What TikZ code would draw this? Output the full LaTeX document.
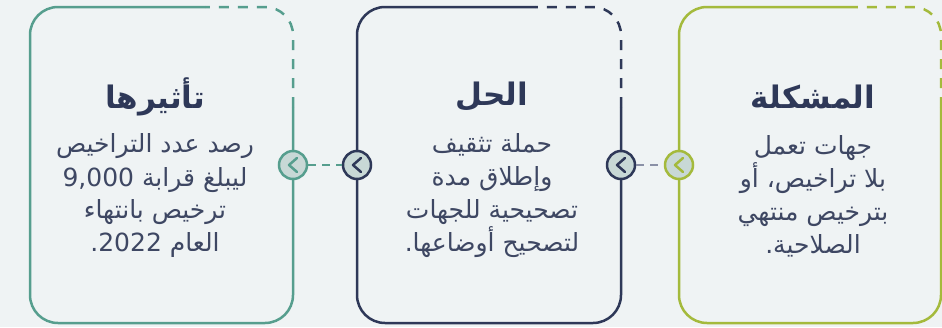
\documentclass[tikz,border=0pt]{standalone}
\usepackage{fontspec}
\usepackage{tikz}
\TeXXeTstate=1
\newfontfamily\arabicfont[Script=Arabic]{DejaVu Sans}

\begin{document}
\begin{tikzpicture}[x=1pt,y=-1pt]
	
	\definecolor{bgpaper}{RGB}{239,243,244}
	\definecolor{olive}{RGB}{164,186,60}
	\definecolor{seagreen}{RGB}{86,158,142}
	\definecolor{navy}{RGB}{46,56,88}
	\definecolor{knobfill}{RGB}{200,216,214}
	\definecolor{linkgray}{RGB}{138,144,166}
	\definecolor{bodytext}{RGB}{62,71,99}
	
	\fill[bgpaper] (0,0) rectangle (942,327);
	\useasboundingbox (0,0) rectangle (942,327);
	
	\tikzset{frame/.style = {line width=2.5pt, rounded corners=28pt}}
	\tikzset{gap/.style = {dash pattern=on 10pt off 9pt}}
	\tikzset{knob/.style = {shape=circle, draw=#1, fill=knobfill, line width=2.5pt, minimum size=28pt, inner sep=0pt}}
	\tikzset{chev/.style = {draw=#1, line width=2.5pt, line cap=round, line join=round}}
	\tikzset{link/.style = {line width=2.5pt, dash pattern=on 8pt off 6pt}}
	\tikzset{head/.style = {navy, font=\arabicfont\bfseries\fontsize{31}{36}\selectfont}}
	\tikzset{body/.style = {bodytext, align=center, font=\arabicfont\fontsize{25}{33}\selectfont}}
	
	% boxes, the top right corner is dashed
	\draw[frame, seagreen] (205,7) -| (30,323) -| (293,107);
	\draw[frame, seagreen, gap] (293,107) |- (205,7);
	\draw[frame, navy] (535,7) -| (357,323) -| (621,107);
	\draw[frame, navy, gap] (621,107) |- (535,7);
	\draw[frame, olive] (857,7) -| (679,323) -| (941,107);
	\draw[frame, olive, gap] (941,107) |- (857,7);
	
	% titles and texts
	\node[head] (eff-t) at (155,97) {\beginR تأثيرها\endR};
	\node[body] (eff-b) at (155,196) {\beginR رصد عدد التراخيص\endR\\
		\beginR ليبلغ قرابة 9,000\endR\\
		\beginR ترخيص بانتهاء\endR\\
		\beginR العام \beginL 2022\endL.\endR};
	
	\node[head] (sol-t) at (492,97) {\beginR الحل\endR};
	\node[body] (sol-b) at (492,196) {\beginR حملة تثقيف\endR\\
		\beginR وإطلاق مدة\endR\\
		\beginR تصحيحية للجهات\endR\\
		\beginR لتصحيح أوضاعها.\endR};
	
	\node[head] (prob-t) at (813,97) {\beginR المشكلة\endR};
	\node[body] (prob-b) at (813,196) {\beginR جهات تعمل\endR\\
		\beginR بلا تراخيص، أو\endR\\
		\beginR بترخيص منتهي\endR\\
		\beginR الصلاحية.\endR};
	
	% knobs on the box sides
	\node[knob=seagreen] (eff-r) at (293,165) {};
	\node[knob=navy] (sol-l) at (357,165) {};
	\node[knob=navy] (sol-r) at (621,165) {};
	\node[knob=olive] (prob-l) at (679,165) {};
	
	\draw[chev=seagreen] (297,158) -- (289,165) -- (297,172);
	\draw[chev=navy] (361,158) -- (353,165) -- (361,172);
	\draw[chev=navy] (625,158) -- (617,165) -- (625,172);
	\draw[chev=olive] (683,158) -- (675,165) -- (683,172);
	
	\draw[link, seagreen] (eff-r) to (sol-l);
	\draw[link, linkgray] (sol-r) to (prob-l);
\end{tikzpicture}
\end{document}
